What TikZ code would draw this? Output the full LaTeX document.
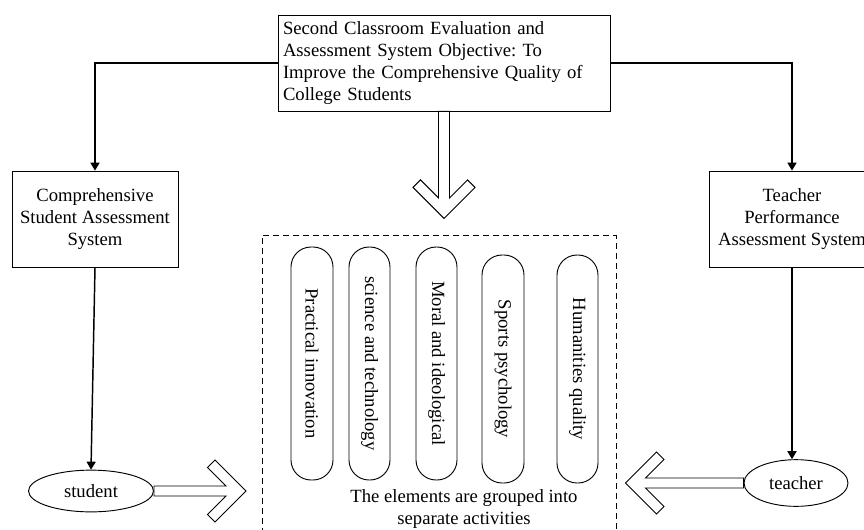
\documentclass[tikz,border=0pt]{standalone}
\usepackage{fontspec}
\setmainfont{Liberation Serif}
\usetikzlibrary{arrows.meta,shapes.geometric}
\newcommand\hollowarrow[4]{%
  \draw[blockarrow,shift={(#1)},rotate=#2]
    (0,-#4) -- ({#3-15-#4},-#4) -- ({#3-38.5},-23.5) -- ({#3-31},-31)
    -- (#3,0) -- ({#3-31},31) -- ({#3-38.5},23.5) -- ({#3-15-#4},#4)
    -- (0,#4) -- cycle;}
\frenchspacing
\begin{document}
\begin{tikzpicture}[x=0.75pt,y=-0.75pt,
  txt/.style={font=\fontsize{14pt}{16.5pt}\selectfont},
  box/.style={draw, line width=0.6pt, txt, inner sep=0pt, align=center,
              minimum width=124.5pt, minimum height=72pt},
  oval/.style={draw, ellipse, line width=0.7pt, txt, inner sep=0pt},
  pill/.style={draw, line width=0.7pt, rounded corners=15pt, rotate=-90, txt, inner sep=0pt},
  conn/.style={line width=1.1pt, -{Triangle[length=6pt,width=6.8pt]}},
  blockarrow/.style={draw, line width=0.7pt, fill=white, line join=miter},
  grpbox/.style={draw, line width=0.6pt, dash pattern=on 4.5pt off 3pt,
                 minimum width=265.5pt, minimum height=232pt, inner sep=0pt},
]
\useasboundingbox (0,0) rectangle (864,529);

% dashed group box
\node[grpbox] (grp) at (439,390.25) {};

% top objective box
\node[draw, line width=0.6pt, txt, inner sep=0pt, minimum width=249pt, minimum height=72pt,
      text width=241.5pt, align=left] (top) at (444,63)
  {Second Classroom Evaluation and\\Assessment System Objective: To\\Improve the Comprehensive Quality of\\College Students};

% side boxes
\node[box] (lbox) at (95,219) {Comprehensive\\Student Assessment\\System};
\node[box] (rbox) at (792,219) {Teacher\\Performance\\Assessment System};

% ellipses
\node[oval, minimum width=93.75pt, minimum height=31.3pt] (student) at (91,491) {student};
\node[oval, minimum width=78pt, minimum height=35pt] (teacher) at (796,483) {teacher};

% pills
\node[pill, minimum width=174.75pt, minimum height=31.5pt] (p1) at (312,363.5) {Practical innovation};
\node[pill, minimum width=174.75pt, minimum height=30.75pt] (p2) at (369.5,363.5) {science and technology};
\node[pill, minimum width=174.75pt, minimum height=30.75pt] (p3) at (436.5,363.5) {Moral and ideological};
\node[pill, minimum width=171pt, minimum height=31.5pt] (p4) at (503,369) {Sports psychology};
\node[pill, minimum width=171pt, minimum height=30.75pt] (p5) at (577.5,369) {Humanities quality};

% caption
\node[txt, align=center, inner sep=0pt] (cap) at (464,509.5) {The elements are grouped into\\separate activities};

% connectors
\draw[conn] (top.west) -| (lbox.north);
\draw[conn] (top.east) -| (rbox.north);
\draw[conn] (lbox.south) -- (student.north);
\draw[conn] (rbox.south) -- (rbox.south |- teacher.north);

% hollow block arrows
\hollowarrow{top.south}{-90}{107}{5.5}
\hollowarrow{student.east}{0}{92}{5}
\hollowarrow{teacher.west}{180}{118}{5}
\end{tikzpicture}
\end{document}
